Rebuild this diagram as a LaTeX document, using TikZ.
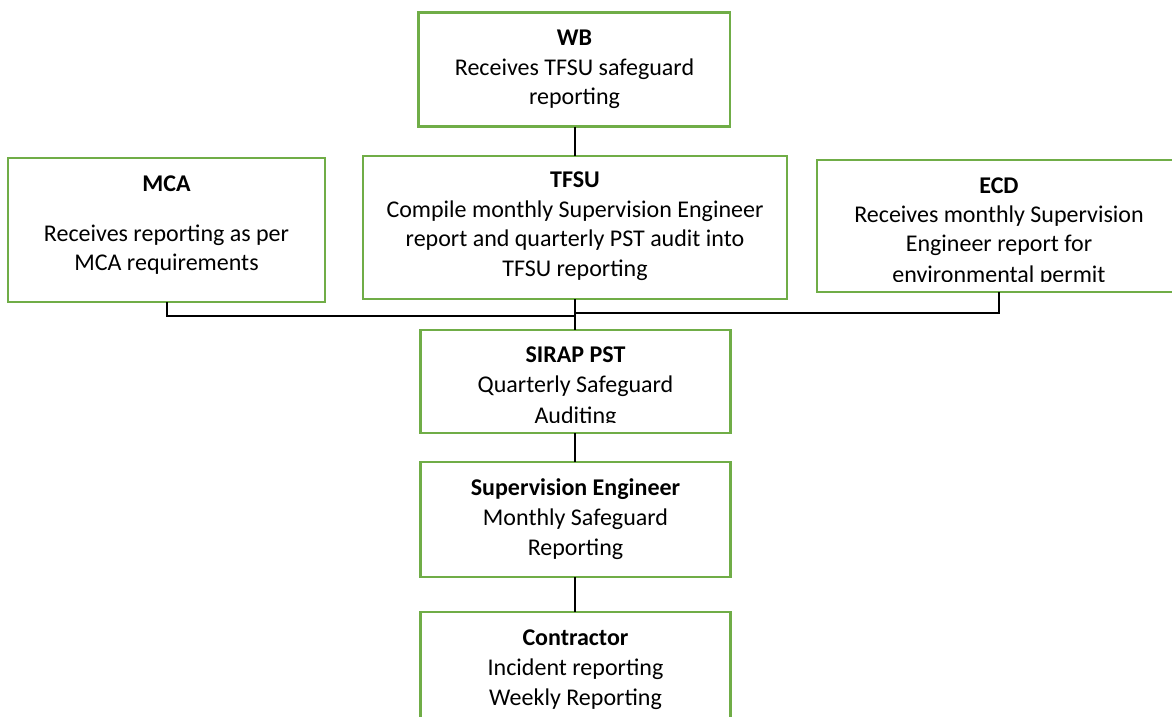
\documentclass[tikz,border=0pt]{standalone}
\usepackage{fontspec}
\setmainfont{Carlito}
\definecolor{boxgreen}{HTML}{70AD47}
\begin{document}
\begin{tikzpicture}[x=1pt,y=-1pt,
  box/.style={draw=boxgreen, line width=2.2pt, fill=white, inner sep=0pt, outer sep=0pt},
  txt/.style={anchor=base, inner sep=0pt, font=\fontsize{24}{29}\selectfont},
  link/.style={draw=black, line width=2pt}]
\useasboundingbox (0,0) rectangle (1172,717);
\clip (0,0) rectangle (1172,717);

% boxes (centre, width, height in px)
\node[box, minimum width=311.5pt, minimum height=114pt] (wb)   at (574.25,69.5) {};
\node[box, minimum width=424pt,   minimum height=143pt] (tfsu) at (575,227.5) {};
\node[box, minimum width=317pt,   minimum height=144pt] (mca)  at (166.5,230) {};
\node[box, minimum width=364pt,   minimum height=132pt] (ecd)  at (999,226) {};
\node[box, minimum width=310pt,   minimum height=103pt] (pst)  at (575.5,381.5) {};
\node[box, minimum width=310pt,   minimum height=115pt] (se)   at (575.5,519.5) {};
\node[box, minimum width=310pt,   minimum height=130pt] (con)  at (575.5,677) {};

% connectors
\coordinate (joinL) at (575,315.5);
\coordinate (joinR) at (575,312.5);
\draw[link] (wb.south -| 575,0) -- (tfsu.north -| 575,0);
\draw[link] (mca.south) |- (joinL);
\draw[link] (ecd.south) |- (joinR);
\draw[link] (tfsu.south -| 575,0) -- (pst.north -| 575,0);
\draw[link] (pst.south -| 575,0) -- (se.north -| 575,0);
\draw[link] (se.south -| 575,0) -- (con.north -| 575,0);

% WB
\node[txt] (wb-1) at (574.5,45.5) {\textbf{WB}};
\node[txt] (wb-2) at (574.5,75.5) {Receives TFSU safeguard};
\node[txt] (wb-3) at (574.5,104.5) {reporting};

% MCA
\node[txt] (mca-1) at (166.5,191) {\textbf{MCA}};
\node[txt] (mca-2) at (166.5,241.5) {Receives reporting as per};
\node[txt] (mca-3) at (166.5,270) {MCA requirements};

% TFSU
\node[txt] (tfsu-1) at (575,187.5) {\textbf{TFSU}};
\node[txt] (tfsu-2) at (575,217) {Compile monthly Supervision Engineer};
\node[txt] (tfsu-3) at (575,246.5) {report and quarterly PST audit into};
\node[txt] (tfsu-4) at (575,276) {TFSU reporting};

% ECD (last line cut off by the text area)
\begin{scope}
\clip (817,161) rectangle (1181,281.5);
\node[txt] (ecd-1) at (999,193) {\textbf{ECD}};
\node[txt] (ecd-2) at (999,222) {Receives monthly Supervision};
\node[txt] (ecd-3) at (999,251) {Engineer report for};
\node[txt] (ecd-4) at (999,282.5) {environmental permit};
\end{scope}

% SIRAP PST (last line cut off)
\begin{scope}
\clip (421,331) rectangle (731,422.5);
\node[txt] (pst-1) at (575.5,362.5) {\textbf{SIRAP PST}};
\node[txt] (pst-2) at (575.5,392) {Quarterly Safeguard};
\node[txt] (pst-3) at (575.5,423.5) {Auditing};
\end{scope}

% Supervision Engineer
\node[txt] (se-1) at (575.5,495) {\textbf{Supervision Engineer}};
\node[txt] (se-2) at (575.5,525) {Monthly Safeguard};
\node[txt] (se-3) at (575.5,555) {Reporting};

% Contractor
\node[txt] (con-1) at (575.5,645) {\textbf{Contractor}};
\node[txt] (con-2) at (575.5,675) {Incident reporting};
\node[txt] (con-3) at (575.5,705) {Weekly Reporting};
\end{tikzpicture}
\end{document}
